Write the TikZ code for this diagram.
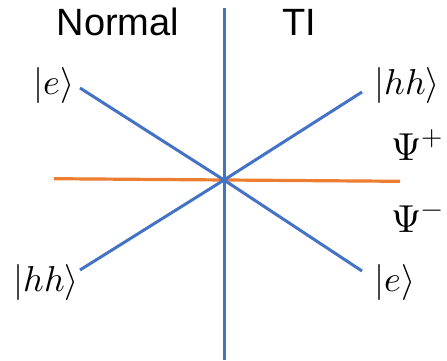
\documentclass[tikz,border=0pt]{standalone}
\usepackage{fontspec}
\usepackage{unicode-math}
\setmainfont{Liberation Sans}
\setmathfont{Latin Modern Math}
\definecolor{lineblue}{HTML}{4472C4}
\definecolor{lineorange}{HTML}{ED7D31}
\begin{document}
\begin{tikzpicture}[x=1pt,y=-1pt,
  blueline/.style={draw=lineblue,line width=3pt},
  orangeline/.style={draw=lineorange,line width=3.2pt},
  ket/.style={inner sep=0pt,font=\fontsize{36}{38}\selectfont},
  psilab/.style={inner sep=0pt,anchor=base west,font=\fontsize{39}{41}\selectfont},
  side/.style={inner sep=0pt,anchor=base,font=\fontsize{38}{40}\selectfont}]
\useasboundingbox (0,0) rectangle (447,360);
\coordinate (c) at (224,180);
\coordinate (vt) at (224,8);
\coordinate (vb) at (224,360);
\coordinate (tl) at (80,88);
\coordinate (tr) at (362,92);
\coordinate (bl) at (80,270);
\coordinate (br) at (362,271);
\coordinate (oL) at (54,178.7);
\coordinate (oR) at (400,181.3);
\draw[orangeline] (oL) -- (oR);
\draw[blueline] (vt) -- (vb);
\draw[blueline] (tl) -- (c);
\draw[blueline] (tr) -- (c);
\draw[blueline] (bl) -- (c);
\draw[blueline] (br) -- (c);
\node[side] (normal) at (118,35) {Normal};
\node[side] (ti) at (299,35) {TI};
\node[ket] (eTL) at (54,85) {$|e\rangle$};
\node[ket] (hhTR) at (407,85) {$|hh\rangle$};
\node[ket] (hhBL) at (46,282) {$|hh\rangle$};
\node[ket] (eBR) at (395,282) {$|e\rangle$};
\node[psilab] (psip) at (391,160) {$\symup{\Psi}^{+}$};
\node[psilab] (psim) at (391,232) {$\symup{\Psi}^{-}$};
\end{tikzpicture}
\end{document}
